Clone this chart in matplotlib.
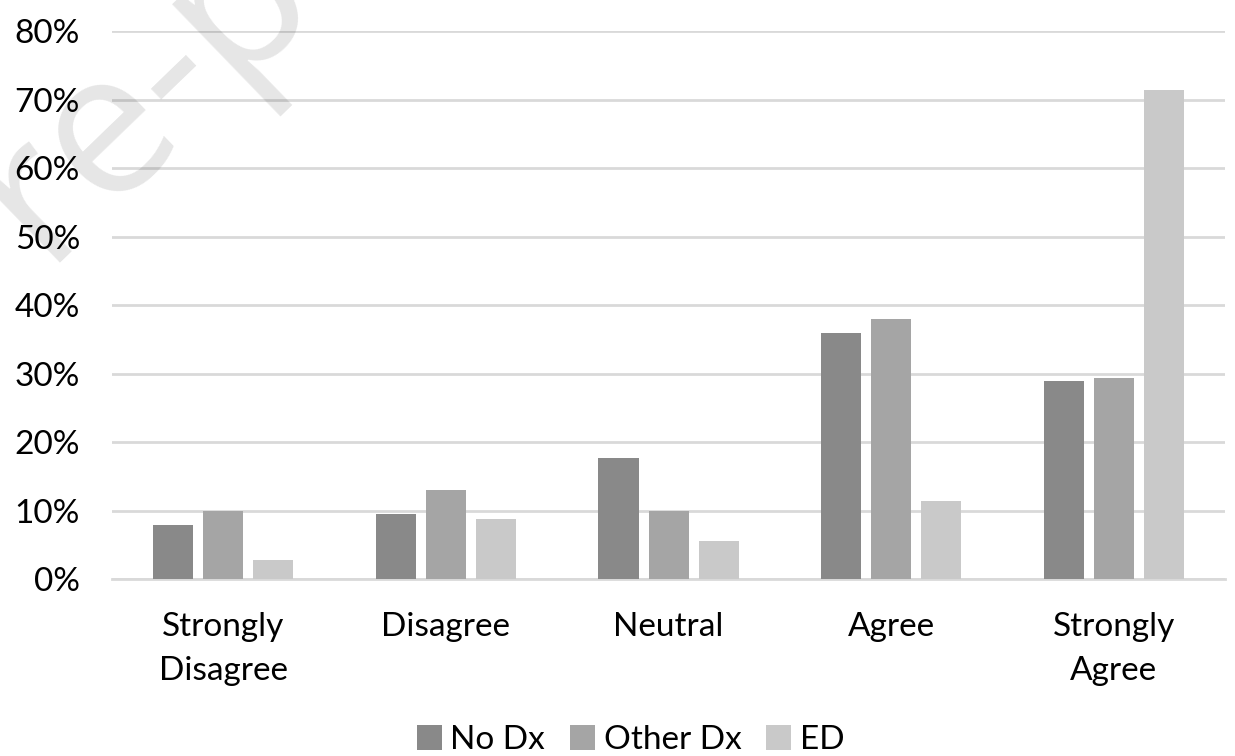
import matplotlib
matplotlib.use("Agg")
import matplotlib.pyplot as plt
import numpy as np

# ── Data ─────────────────────────────────────────────────────────────────────
categories = ["Strongly\nDisagree", "Disagree", "Neutral", "Agree", "Strongly\nAgree"]
series_names = ["No Dx", "Other Dx", "ED"]
no_dx = [7.9, 9.5, 17.7, 35.9, 28.9]
other_dx = [9.9, 13.0, 9.9, 38.0, 29.3]
ed = [2.8, 8.8, 5.5, 11.4, 71.4]
yticks = [0, 10, 20, 30, 40, 50, 60, 70, 80]

# ── Style ────────────────────────────────────────────────────────────────────
plt.rcParams.update({
    "font.family": ["Lato", "DejaVu Sans"],
    "font.size": 24,
})
colors = ["#898989", "#a5a5a5", "#c9c9c9"]
grid_color = "#d9d9d9"

fig = plt.figure(figsize=(12.35, 7.56), dpi=100)
ax = fig.add_axes([0.0907, 0.234, 0.9013, 0.725])

x = np.arange(len(categories))
width = 0.18
step = 0.225
for i, (vals, name, col) in enumerate(zip([no_dx, other_dx, ed], series_names, colors)):
    ax.bar(x + (i - 1) * step, np.array(vals) / 100, width,
           color=col, label=name, zorder=3)

ax.set_xlim(-0.5, len(categories) - 0.5)
ax.set_ylim(0, 0.8)
ax.set_yticks(np.array(yticks) / 100)
ax.set_yticklabels([f"{t}%" for t in yticks])
ax.set_xticks(x)
ax.set_xticklabels(categories, linespacing=1.55)
ax.tick_params(length=0, labelsize=24, colors="black")
ax.tick_params(axis="y", pad=23)
ax.tick_params(axis="x", pad=24)

ax.grid(True, axis="y", color=grid_color, lw=2, zorder=0)
for s in ["top", "right", "left"]:
    ax.spines[s].set_visible(False)
ax.spines["bottom"].set_color(grid_color)
ax.spines["bottom"].set_linewidth(2)

ax.legend(loc="center", bbox_to_anchor=(0.466, -0.294), ncol=3,
          frameon=False, fontsize=24, handlelength=0.75, handleheight=0.75,
          handletextpad=0.25, columnspacing=0.75, borderpad=0)

# watermark
fig.text(-0.036, 0.544, "Pre-proof", fontsize=145,
         color="black", alpha=0.1, rotation=44, rotation_mode="anchor",
         ha="left", va="baseline", family="Open Sans", zorder=10)

fig.savefig("out.png", dpi=100)
